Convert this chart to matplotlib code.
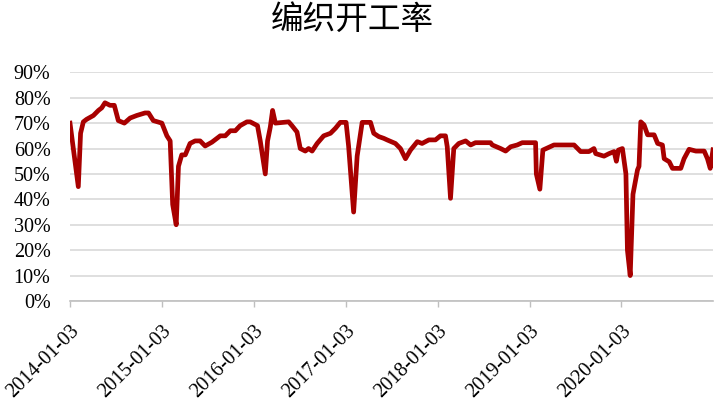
import matplotlib
matplotlib.use('Agg')
from matplotlib import pyplot as plt
import matplotlib.dates as mdates
from matplotlib.ticker import PercentFormatter
import numpy as np
import pandas as pd

# weekly knitting operating rate
dates = ['2014-01-03', '2014-02-05', '2014-02-14', '2014-02-25', '2014-03-10',
         '2014-04-06', '2014-04-26', '2014-05-09', '2014-05-22', '2014-06-11',
         '2014-06-28', '2014-07-14', '2014-08-07', '2014-08-30', '2014-09-25',
         '2014-10-28', '2014-11-11', '2014-11-30', '2015-01-03', '2015-01-23',
         '2015-02-05', '2015-02-15', '2015-03-01', '2015-03-10', '2015-03-23',
         '2015-04-06', '2015-04-25', '2015-05-15', '2015-06-04', '2015-06-24',
         '2015-07-21', '2015-08-23', '2015-09-12', '2015-10-02', '2015-10-22',
         '2015-11-10', '2015-12-07', '2015-12-20', '2016-01-18', '2016-01-29',
         '2016-02-18', '2016-02-27', '2016-03-09', '2016-03-18', '2016-03-29',
         '2016-05-21', '2016-06-03', '2016-06-23', '2016-07-06', '2016-07-26',
         '2016-08-08', '2016-08-22', '2016-09-11', '2016-10-07', '2016-11-03',
         '2016-11-23', '2016-12-12', '2017-01-04', '2017-01-14', '2017-02-03',
         '2017-02-17', '2017-03-09', '2017-04-11', '2017-04-24', '2017-05-14',
         '2017-06-03', '2017-06-16', '2017-07-19', '2017-08-08', '2017-08-28',
         '2017-09-17', '2017-10-14', '2017-11-02', '2017-11-29', '2017-12-25',
         '2018-01-14', '2018-02-03', '2018-02-10', '2018-02-23', '2018-03-08',
         '2018-03-28', '2018-04-24', '2018-05-14', '2018-06-02', '2018-08-01',
         '2018-08-08', '2018-09-10', '2018-09-30', '2018-10-20', '2018-11-15',
         '2018-12-05', '2019-01-27', '2019-01-30', '2019-02-13', '2019-02-25',
         '2019-03-21', '2019-04-10', '2019-06-29', '2019-07-25', '2019-08-27',
         '2019-09-16', '2019-09-23', '2019-10-26', '2019-11-15', '2019-12-05',
         '2019-12-14', '2019-12-22', '2020-01-07', '2020-01-21', '2020-01-27',
         '2020-02-07', '2020-02-18', '2020-03-07', '2020-03-13', '2020-03-20',
         '2020-04-02', '2020-04-16', '2020-05-12', '2020-05-26', '2020-06-14',
         '2020-06-21', '2020-07-11', '2020-07-24', '2020-08-26', '2020-09-08',
         '2020-09-28', '2020-10-25', '2020-11-27', '2020-12-10', '2020-12-21',
         '2021-01-01']
rate = [70, 45, 66, 70.5, 71.5,
        73, 75, 76, 78, 77,
        77, 71, 70, 72, 73,
        74, 74, 71, 70, 65,
        63, 38, 30, 53, 57.5,
        57.5, 62, 63, 63, 61,
        62.5, 65, 65, 67, 67,
        69, 70.5, 70.5, 69, 63,
        50, 63, 68.5, 75, 70,
        70.5, 69, 66.5, 60, 59,
        60, 59, 62, 65, 66,
        68, 70.3, 70.3, 61, 35,
        57, 70.3, 70.3, 66, 64.7,
        64, 63.4, 62, 60, 56,
        59.4, 62.7, 62, 63.4, 63.4,
        65, 65, 60.7, 40.4, 60,
        62, 63, 61.4, 62.3, 62.3,
        61.4, 60, 59, 60.7, 61.4,
        62.3, 62.3, 50, 44, 59.4,
        60.5, 61.4, 61.4, 58.8, 58.8,
        60, 58, 57, 58, 58.8,
        55, 59.4, 60, 50, 20,
        10, 42, 51.6, 53, 70.5,
        69.3, 65.4, 65.4, 62, 61.4,
        56, 54.8, 52.2, 52.2, 56,
        59.7, 59, 59, 56, 52.2,
        59.5]
tick_dates = ['2014-01-03', '2015-01-03', '2016-01-03', '2017-01-03',
              '2018-01-03', '2019-01-03', '2020-01-03']
ttl = '编织开工率'

xdates = pd.to_datetime(dates)
ypts = np.array(rate)/100.0

serif = ['Liberation Serif', 'DejaVu Serif']
grid_col = '#d9d9d9'

fig = plt.figure(figsize=(7.2, 4.05), dpi=100)
ax = fig.add_axes([70/720, 1-301/405, 643/720, (301-72.3)/405])

ax.plot(xdates, ypts, color='#a80000', lw=3.4, solid_joinstyle='round', zorder=3)

ax.set_ylim(0, 0.9)
ax.set_yticks(np.arange(0, 0.91, 0.1))
ax.yaxis.set_major_formatter(PercentFormatter(1.0, decimals=0))
ax.set_xlim(xdates[0], xdates[-1])
ax.set_xticks(pd.to_datetime(tick_dates))
ax.xaxis.set_major_formatter(mdates.DateFormatter('%Y-%m-%d'))

ax.grid(axis='y', color=grid_col, lw=1.2, zorder=0)
ax.set_axisbelow(True)
for side in ['left', 'right', 'top']:
    ax.spines[side].set_visible(False)
ax.spines['bottom'].set_color('#bfbfbf')
ax.spines['bottom'].set_linewidth(1.2)

ax.tick_params(axis='y', length=0, pad=14, labelsize=14.5)
ax.tick_params(axis='x', length=4, width=1, color='#bfbfbf', pad=11, labelsize=14.5)
for lbl in ax.get_yticklabels() + ax.get_xticklabels():
    lbl.set_family(serif)
    lbl.set_color('black')
for lbl in ax.get_xticklabels():
    lbl.set_rotation(45)
    lbl.set_ha('right')
    lbl.set_va('top')
    lbl.set_rotation_mode('anchor')

fig.text(352/720, 1-20/405, ttl, ha='center', va='center', fontsize=23.5,
         family=['Noto Sans CJK SC', 'DejaVu Sans'], fontweight='light')

fig.savefig('out.png', dpi=100)
